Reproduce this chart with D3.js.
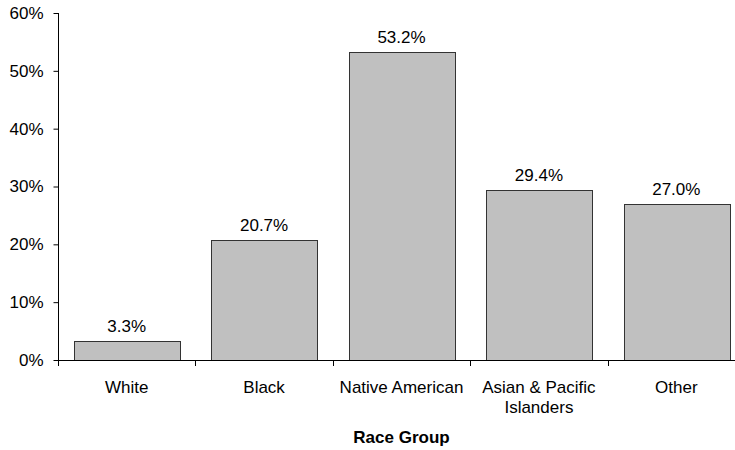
<!DOCTYPE html>
<html>
<head>
<meta charset="utf-8">
<script src="https://cdn.jsdelivr.net/npm/d3@7"></script>
<style>
  body { margin: 0; background: #fff; }
  text { font-family: "Liberation Sans", Arial, sans-serif; fill: #000; }
</style>
</head>
<body>
<svg id="chart" width="735" height="450"></svg>
<script>
// Share of each race group (percent)
const categories = ["White", "Black", "Native American", "Asian & Pacific Islanders", "Other"];
const categoryLines = [["White"], ["Black"], ["Native American"], ["Asian & Pacific", "Islanders"], ["Other"]];
const values = [3.3, 20.7, 53.2, 29.4, 27.0];
const yTicks = [0, 10, 20, 30, 40, 50, 60];
const xTitle = "Race Group";

const svg = d3.select("#chart");
const plotLeft = 58, plotRight = 745, plotTop = 13, plotBottom = 360;
const fontSize = 17;

const x = d3.scaleBand().domain(categories).range([plotLeft, plotRight]).paddingInner(0.232).paddingOuter(0.116);
const y = d3.scaleLinear().domain([0, 60]).range([plotBottom, plotTop]);

// Bars
svg.append("g").selectAll("rect")
  .data(values)
  .join("rect")
  .attr("x", (d, i) => Math.round(x(categories[i])) + 0.5)
  .attr("y", d => Math.round(y(d)) + 0.5)
  .attr("width", Math.round(x.bandwidth()))
  .attr("height", d => Math.round(y(0)) - Math.round(y(d)))
  .attr("fill", "#c0c0c0")
  .attr("stroke", "#333")
  .attr("stroke-width", 1);

// Value labels
svg.append("g").selectAll("text")
  .data(values)
  .join("text")
  .attr("x", (d, i) => x(categories[i]) + x.bandwidth() / 2)
  .attr("y", d => y(d) - 9)
  .attr("text-anchor", "middle")
  .attr("font-size", fontSize)
  .text(d => d.toFixed(1) + "%");

// Y axis
const yAxis = svg.append("g")
  .attr("transform", `translate(${plotLeft + 0.5},0)`)
  .call(d3.axisLeft(y).tickValues(yTicks).tickFormat(d => d + "%").tickSize(5).tickPadding(10));
yAxis.select(".domain").attr("d", `M0,${plotTop}V${plotBottom}`).attr("stroke", "#000");
yAxis.selectAll(".tick line").attr("stroke", "#000");
yAxis.selectAll(".tick text").attr("font-size", fontSize).attr("font-family", "Liberation Sans, Arial, sans-serif");

// X axis: ticks on band boundaries
const step = x.step();
const boundaries = d3.range(categories.length + 1).map(i => plotLeft + i * step);
const xAxis = svg.append("g");
xAxis.append("line")
  .attr("x1", plotLeft).attr("x2", plotRight)
  .attr("y1", plotBottom + 0.5).attr("y2", plotBottom + 0.5)
  .attr("stroke", "#000");
xAxis.selectAll("line.tick")
  .data(boundaries)
  .join("line")
  .attr("class", "tick")
  .attr("x1", d => Math.round(d) + 0.5).attr("x2", d => Math.round(d) + 0.5)
  .attr("y1", plotBottom).attr("y2", plotBottom + 6)
  .attr("stroke", "#000");

// Category labels
const labels = svg.append("g").selectAll("text")
  .data(categories)
  .join("text")
  .attr("x", d => x(d) + x.bandwidth() / 2)
  .attr("y", 393)
  .attr("text-anchor", "middle")
  .attr("font-size", fontSize);
labels.each(function(d, i) {
  const t = d3.select(this);
  categoryLines[i].forEach((line, j) => {
    t.append("tspan")
      .attr("x", x(d) + x.bandwidth() / 2)
      .attr("dy", j === 0 ? 0 : 20)
      .text(line);
  });
});

// Axis title
svg.append("text")
  .attr("x", x(categories[2]) + x.bandwidth() / 2)
  .attr("y", 443)
  .attr("text-anchor", "middle")
  .attr("font-size", fontSize)
  .attr("font-weight", "bold")
  .text(xTitle);
</script>
</body>
</html>
